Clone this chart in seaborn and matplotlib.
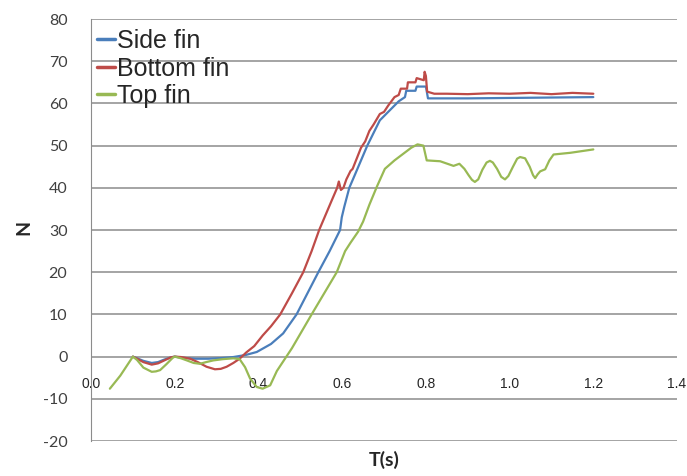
import matplotlib
matplotlib.use("Agg")
import matplotlib.pyplot as plt
import numpy as np
import pandas as pd
import seaborn as sns

# Valeurs
side_t = [0.10, 0.11, 0.125, 0.145, 0.16, 0.175, 0.19, 0.20, 0.22, 0.25, 0.28, 0.31,
          0.34, 0.37, 0.396, 0.43, 0.459, 0.491, 0.517, 0.543, 0.57, 0.595, 0.599,
          0.605, 0.617, 0.63, 0.645, 0.66, 0.675, 0.69, 0.705, 0.72, 0.735, 0.75,
          0.753, 0.775, 0.778, 0.80, 0.805, 0.90, 1.00, 1.10, 1.20]
side_n = [0.0, -0.4, -1.0, -1.5, -1.3, -0.7, -0.2, 0.0, -0.3, -0.5, -0.5, -0.35,
          -0.1, 0.4, 1.1, 3.0, 5.5, 10.0, 15.0, 20.0, 25.0, 30.0, 33.0,
          35.5, 40.0, 43.0, 46.5, 50.0, 53.0, 56.0, 57.5, 59.0, 60.5, 61.5,
          63.0, 63.0, 64.0, 64.0, 61.2, 61.2, 61.3, 61.4, 61.5]

bottom_t = [0.10, 0.11, 0.125, 0.145, 0.16, 0.175, 0.19, 0.20, 0.215, 0.237, 0.255,
            0.276, 0.296, 0.31, 0.324, 0.34, 0.355, 0.371, 0.39, 0.41, 0.43, 0.452,
            0.48, 0.507, 0.527, 0.545, 0.56, 0.575, 0.588, 0.592, 0.597, 0.603,
            0.61, 0.62, 0.625, 0.635, 0.645, 0.655, 0.665, 0.675, 0.69, 0.70, 0.71,
            0.725, 0.735, 0.74, 0.755, 0.757, 0.775, 0.778, 0.795, 0.797, 0.80, 0.803,
            0.82, 0.85, 0.90, 0.95, 1.00, 1.05, 1.10, 1.15, 1.20]
bottom_n = [0.0, -0.5, -1.3, -1.9, -1.6, -0.9, -0.2, 0.0, -0.1, -0.5, -1.3,
            -2.4, -3.0, -2.9, -2.4, -1.5, -0.5, 1.0, 2.5, 5.0, 7.2, 10.0,
            15.0, 20.0, 25.0, 30.0, 33.5, 37.0, 40.0, 41.5, 39.5, 40.0,
            42.0, 44.0, 44.5, 47.0, 49.5, 51.0, 53.5, 55.0, 57.5, 58.0, 59.5,
            61.5, 62.0, 63.5, 63.5, 65.0, 65.0, 66.0, 65.5, 67.5, 66.5, 62.8,
            62.3, 62.3, 62.2, 62.4, 62.3, 62.5, 62.2, 62.5, 62.3]

top_t = [0.045, 0.07, 0.09, 0.10, 0.11, 0.125, 0.145, 0.155, 0.165, 0.18, 0.195, 0.20,
         0.215, 0.229, 0.245, 0.26, 0.275, 0.292, 0.315, 0.34, 0.355, 0.368, 0.38,
         0.396, 0.41, 0.428, 0.444, 0.48, 0.527, 0.56, 0.587, 0.607, 0.62, 0.638,
         0.65, 0.665, 0.683, 0.702, 0.725, 0.745, 0.765, 0.78, 0.794, 0.802, 0.834,
         0.866, 0.88, 0.892, 0.902, 0.91, 0.917, 0.925, 0.935, 0.945, 0.953, 0.96,
         0.97, 0.98, 0.989, 0.997, 1.008, 1.018, 1.025, 1.037, 1.048, 1.056, 1.061,
         1.067, 1.073, 1.085, 1.095, 1.105, 1.145, 1.20]
top_n = [-7.6, -4.5, -1.5, 0.0, -0.8, -2.6, -3.6, -3.5, -3.2, -1.8, -0.3, 0.0,
         -0.4, -0.9, -1.5, -1.7, -1.3, -0.9, -0.6, -0.4, -0.6, -2.5, -5.2,
         -7.2, -7.6, -6.8, -3.4, 2.0, 10.0, 15.5, 20.0, 25.0, 27.0, 29.6,
         32.0, 36.0, 40.3, 44.5, 46.5, 48.0, 49.5, 50.3, 50.0, 46.5, 46.3,
         45.2, 45.7, 44.5, 43.0, 41.9, 41.4, 42.0, 44.3, 46.0, 46.4, 46.0,
         44.5, 42.6, 42.0, 42.8, 45.0, 46.9, 47.3, 47.0, 45.0, 43.0, 42.3,
         43.2, 43.9, 44.4, 46.5, 47.9, 48.3, 49.1]

series_names = ["Side fin", "Bottom fin", "Top fin"]
series_colors = ["#4A7EBB", "#BE4B48", "#98B954"]
x_ticks = [0.0, 0.2, 0.4, 0.6, 0.8, 1.0, 1.2, 1.4]
y_ticks = [-20, -10, 0, 10, 20, 30, 40, 50, 60, 70, 80]

df = pd.concat([
    pd.DataFrame({"T": side_t, "N": side_n, "fin": series_names[0]}),
    pd.DataFrame({"T": bottom_t, "N": bottom_n, "fin": series_names[1]}),
    pd.DataFrame({"T": top_t, "N": top_n, "fin": series_names[2]}),
], ignore_index=True)

sns.set_style("white")
plt.rcParams["font.family"] = ["Liberation Sans", "DejaVu Sans"]

fig = plt.figure(figsize=(6.87, 4.76), dpi=100)
ax = fig.add_axes([0.1325, 0.0735, 0.853, 0.8865])

sns.lineplot(data=df, x="T", y="N", hue="fin", palette=series_colors,
             hue_order=series_names, estimator=None, sort=False, lw=1.6, ax=ax)

ax.set_xlim(0, 1.4)
ax.set_ylim(-20, 80)
ax.set_xticks(x_ticks)
ax.set_xticklabels([f"{v:.1f}" for v in x_ticks], fontfamily="Lato", fontsize=11.5, color="#404040")
ax.set_yticks(y_ticks)
ax.set_yticklabels([str(v) for v in y_ticks], fontfamily="Lato", fontsize=11.5, color="#404040")

# grille horizontale façon Excel
ax.yaxis.grid(True, color="#8c8c8c", lw=1.1)
ax.xaxis.grid(False)
ax.set_axisbelow(True)

for s in ["top", "right"]:
    ax.spines[s].set_visible(False)
ax.spines["left"].set_color("#8c8c8c")
ax.spines["bottom"].set_position(("data", 0))
ax.spines["bottom"].set_visible(False)
ax.tick_params(axis="both", length=0)
ax.tick_params(axis="x", pad=15)
ax.tick_params(axis="y", pad=17)

ax.set_xlabel("T(s)", fontfamily="Lato", fontweight="bold", fontsize=14)
ax.set_ylabel("N", fontfamily="Lato", fontweight="bold", fontsize=14)
ax.xaxis.set_label_coords(0.5, -0.024)
ax.yaxis.set_label_coords(-0.10, 0.505)

leg = ax.legend(loc="upper left", bbox_to_anchor=(-0.007, 1.0), frameon=False,
                fontsize=18, handlelength=0.72, handletextpad=0.1,
                labelspacing=0.14, borderaxespad=0.1, borderpad=0.3)
for line in leg.get_lines():
    line.set_linewidth(2.5)

fig.savefig("out.png", dpi=100)
